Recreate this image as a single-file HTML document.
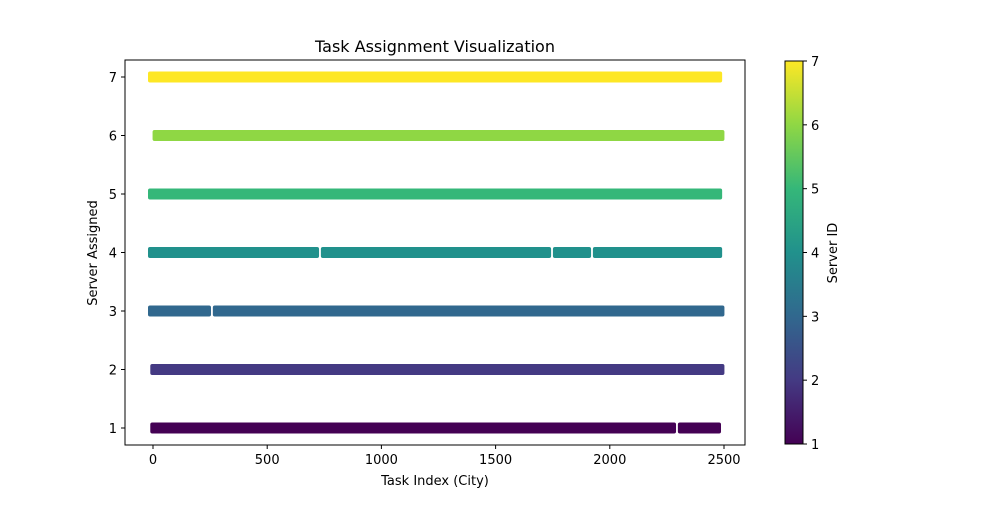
<!DOCTYPE html>
<html><head><meta charset="utf-8">
<style>
body{margin:0;background:#fff;font-family:"Liberation Sans","DejaVu Sans",sans-serif;}
svg text{font-family:"DejaVu Sans","Liberation Sans",sans-serif;font-size:13px;fill:#000;}
</style></head>
<body>
<svg id="chart" width="1000" height="500" viewBox="0 0 1000 500">
<defs>
<linearGradient id="viridis" x1="0" y1="1" x2="0" y2="0">
<stop offset="0" stop-color="#440154"/><stop offset="0.1667" stop-color="#443a83"/>
<stop offset="0.3333" stop-color="#31688e"/><stop offset="0.5" stop-color="#21918c"/>
<stop offset="0.6667" stop-color="#35b779"/><stop offset="0.8333" stop-color="#8fd744"/>
<stop offset="1" stop-color="#fde725"/></linearGradient>
</defs>
<text x="435" y="52" text-anchor="middle" style="font-size:16px">Task Assignment Visualization</text>
<g id="plot"></g>
<rect x="125" y="60" width="620" height="385" fill="none" stroke="#000" stroke-width="1"/>
<text x="435" y="485" text-anchor="middle">Task Index (City)</text>
<text x="97" y="253" text-anchor="middle" transform="rotate(-90 97 253)">Server Assigned</text>
<rect x="785" y="61" width="18" height="383" fill="url(#viridis)" stroke="#000" stroke-width="1"/>
<text x="837" y="253" text-anchor="middle" transform="rotate(-90 837 253)">Server ID</text>
</svg>
<script>
const servers=[1,2,3,4,5,6,7];
const segStarts=[[10,2298],[10],[0,262],[0,735,1751,1926],[0],[20],[0]];
const segEnds=[[2290,2465],[2480],[254,2480],[727,1743,1918,2470],[2470],[2480],[2470]];
const xTicks=[0,500,1000,1500,2000,2500];
const yTicks=[1,2,3,4,5,6,7];
const colors=["#440154","#443a83","#31688e","#21918c","#35b779","#8fd744","#fde725"];
const NS="http://www.w3.org/2000/svg";
const xS=v=>153+v*(571/2500);
const yS=v=>428-(v-1)*58.5;
const cS=v=>444-(v-1)*(383/6);
const g=document.getElementById('plot');
const svg=document.getElementById('chart');
function mk(t,a,p){const e=document.createElementNS(NS,t);for(const k in a)e.setAttribute(k,a[k]);(p||g).appendChild(e);return e;}
servers.forEach((s,i)=>{
  const n=segStarts[i].length;
  segStarts[i].forEach((st,j)=>{
    const x0=xS(st)-(j===0?5:0),x1=xS(segEnds[i][j])+(j===n-1?5:0);
    const r=mk('rect',{x:x0,y:yS(s)-5.5,width:x1-x0,height:11,rx:2,fill:colors[i]});
    
    
  });
});
xTicks.forEach(t=>{
  const x=xS(t);
  const l=mk('line',{x1:x,x2:x,y1:445,y2:449,stroke:'#000'},svg);
  
  
  const tx=mk('text',{x:x,y:464,'text-anchor':'middle'},svg);tx.textContent=t;
  
  
});
yTicks.forEach(t=>{
  const y=yS(t);
  const l=mk('line',{x1:121,x2:125,y1:y,y2:y,stroke:'#000'},svg);
  
  
  const tx=mk('text',{x:117,y:y+5,'text-anchor':'end'},svg);tx.textContent=t;
  
  
  const c=cS(t);
  const cl=mk('line',{x1:803,x2:807,y1:c,y2:c,stroke:'#000'},svg);
  
  
  const ct=mk('text',{x:811,y:c+5},svg);ct.textContent=t;
  
  
});
</script>
</body></html>
